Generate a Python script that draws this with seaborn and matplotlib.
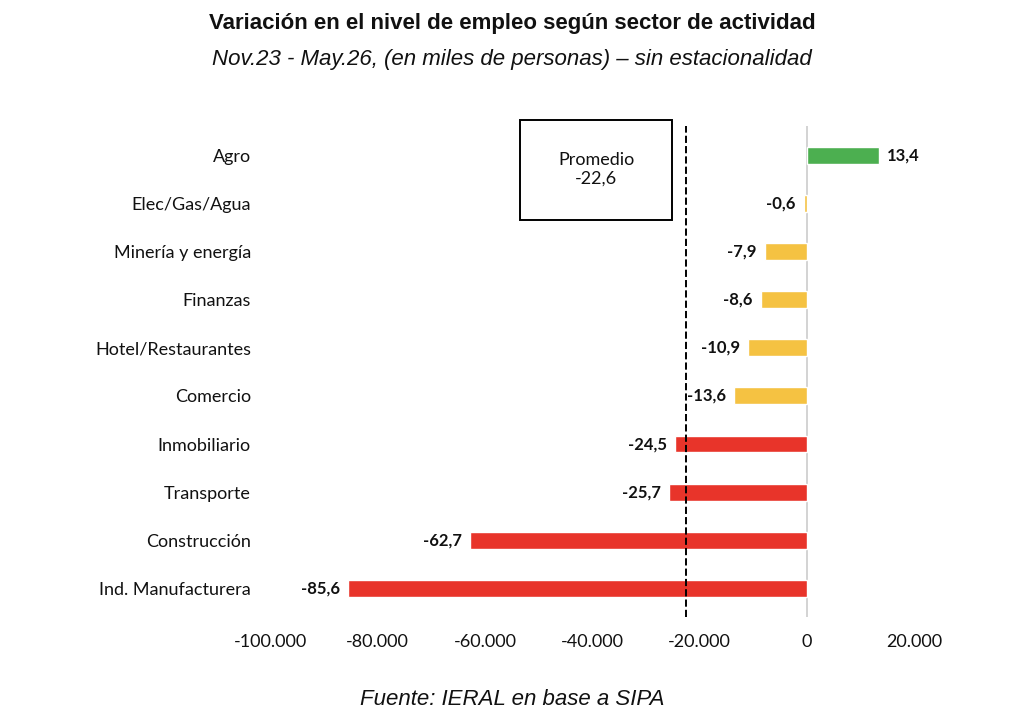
import matplotlib.pyplot as plt
import seaborn as sns
import pandas as pd
from matplotlib.ticker import FuncFormatter
from matplotlib.patches import Rectangle

sectores = ['Agro', 'Elec/Gas/Agua', 'Minería y energía', 'Finanzas', 'Hotel/Restaurantes',
            'Comercio', 'Inmobiliario', 'Transporte', 'Construcción', 'Ind. Manufacturera']
variacion = [13.4, -0.6, -7.9, -8.6, -10.9, -13.6, -24.5, -25.7, -62.7, -85.6]
promedio = -22.6

def color_for(v):
    if v > 0:
        return '#4caf50'
    if v > -20:
        return '#f5c242'
    return '#e8342a'

df = pd.DataFrame({'sector': sectores, 'valor': [v * 1000 for v in variacion]})

sns.set_style('white')
plt.rcParams['font.family'] = ['Lato', 'DejaVu Sans']
plt.rcParams['text.color'] = '#111111'
fig = plt.figure(figsize=(10.24, 7.27), dpi=100)
ax = fig.add_axes([0.264, 0.151, 0.655, 0.675])

sns.barplot(data=df, x='valor', y='sector', hue='sector', legend=False,
            palette=[color_for(v) for v in variacion], width=0.35, saturation=1, ax=ax)

ax.axvline(0, color='#cccccc', linewidth=1.2, zorder=0)
ax.axvline(promedio * 1000, color='black', linestyle='--', linewidth=1.4)

for i, v in enumerate(variacion):
    txt = f'{v:.1f}'.replace('.', ',')
    if v > 0:
        ax.text(v * 1000 + 1500, i, txt, ha='left', va='center', fontsize=12, fontweight='bold')
    else:
        ax.text(v * 1000 - 1500, i, txt, ha='right', va='center', fontsize=12, fontweight='bold')

ax.add_patch(Rectangle((-53500, -0.73), 28400, 2.08, fill=False, edgecolor='black',
                       linewidth=1.4, zorder=3, clip_on=False))
ax.text(-39300, 0.3, 'Promedio\n-22,6', ha='center', va='center', fontsize=13, linespacing=1.2)

ax.set_xlim(-100000, 25000)
ax.set_ylim(9.6, -0.6)
ax.set_xticks(range(-100000, 20001, 20000))
ax.xaxis.set_major_formatter(FuncFormatter(lambda x, p: f'{int(x):,}'.replace(',', '.')))
ax.tick_params(labelsize=13, length=0, labelcolor='#111111')
ax.tick_params(axis='y', pad=14)
ax.tick_params(axis='x', pad=12)
ax.set_xlabel('')
ax.set_ylabel('')
sns.despine(ax=ax, left=True, bottom=True)

fig.text(0.5, 0.96, 'Variación en el nivel de empleo según sector de actividad',
         ha='center', fontsize=16, fontweight='bold', family=['Liberation Sans', 'DejaVu Sans'])
fig.text(0.5, 0.91, 'Nov.23 - May.26, (en miles de personas) – sin estacionalidad',
         ha='center', fontsize=16, style='italic', family=['Liberation Sans', 'DejaVu Sans'])
fig.text(0.5, 0.03, 'Fuente: IERAL en base a SIPA', ha='center', fontsize=16, style='italic',
         family=['Liberation Sans', 'DejaVu Sans'])

fig.savefig('out.png', dpi=100)
